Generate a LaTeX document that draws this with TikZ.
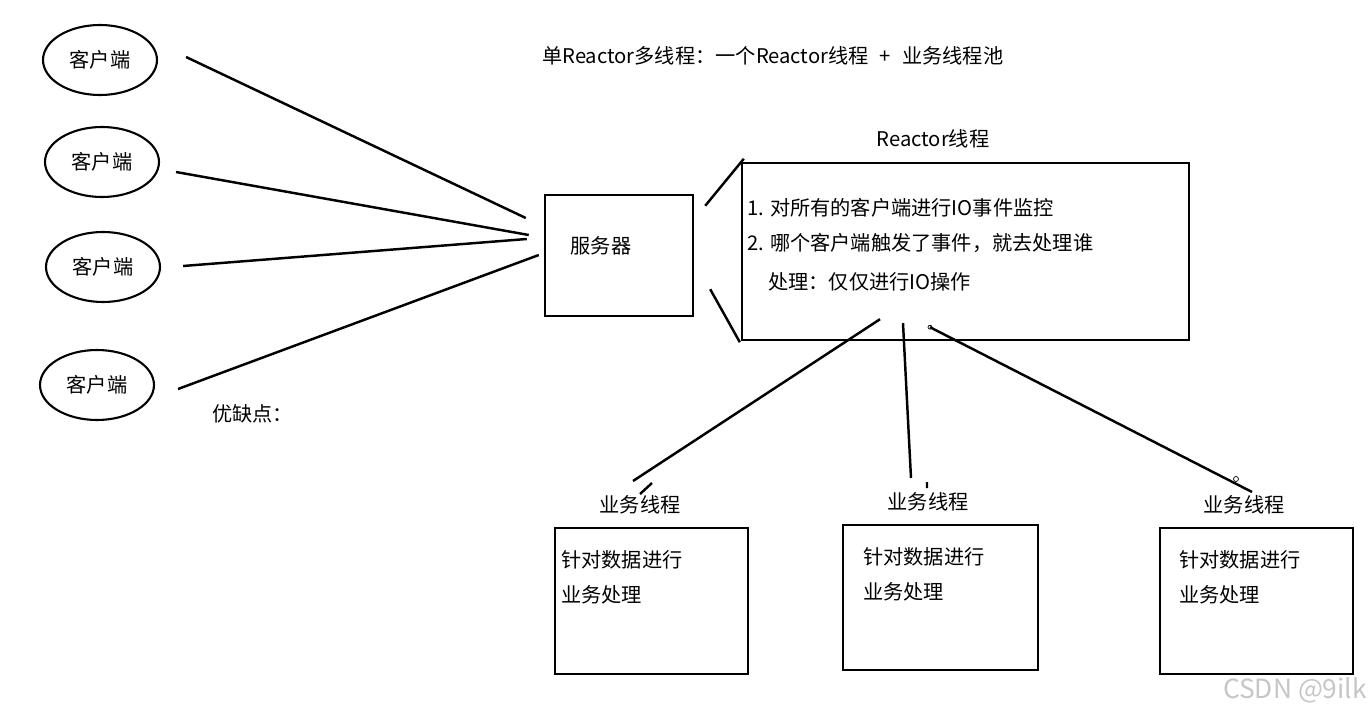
\documentclass[tikz,border=0pt]{standalone}
\usepackage{fontspec}
\setmainfont{Noto Sans CJK SC}
\usetikzlibrary{shapes.geometric, positioning, calc}

\begin{document}
\begin{tikzpicture}[x=0.02cm, y=-0.02cm, line width=1.4pt,
    font=\fontsize{11.5pt}{14pt}\selectfont,
    client/.style={ellipse, draw, line width=1.2pt, minimum width=2.28cm, minimum height=1.4cm},
    box/.style={rectangle, draw},
    txt/.style={anchor=west, inner sep=0pt}]
    \useasboundingbox (0,0) rectangle (1370,713);
    % clients and server
    \node[client] (c1) at (100,60) {客户端};
    \node[client] (c2) at (102,162) {客户端};
    \node[client] (c3) at (103,267) {客户端};
    \node[client] (c4) at (97,385) {客户端};
    \node[txt] (pros) at (211,414) {优缺点：};
    \node[box, minimum width=2.96cm, minimum height=2.42cm] (srv) at (619,255.5) {};
    \node (srvtext) at (601,246) {服务器};
    \node[txt] (title) at (541,56) {单Reactor多线程：一个Reactor线程\hspace{0.55em}+\hspace{0.55em}业务线程池};

    % reactor thread
    \node (rlabel) at (933,139) {Reactor线程};
    \node[box, minimum width=8.94cm, minimum height=3.54cm] (rb) at (965.5,251.5) {};
    \node[txt] (r1) at (746,208) {1. 对所有的客户端进行IO事件监控};
    \node[txt] (r2) at (746,243) {2. 哪个客户端触发了事件，就去处理谁};
    \node[txt] (r3) at (767,282) {处理：仅仅进行IO操作};

    % worker threads
    \node (l1) at (640,505) {业务线程};
    \node (l2) at (928,502) {业务线程};
    \node (l3) at (1244,505) {业务线程};
    \node[box, minimum width=3.86cm, minimum height=2.92cm] (w1) at (651.5,601) {};
    \node[box, minimum width=3.9cm, minimum height=2.9cm] (w2) at (940.5,597.5) {};
    \node[box, minimum width=3.86cm, minimum height=2.92cm] (w3) at (1256.5,601) {};
    \node[txt] (w1a) at (560,560) {针对数据进行};
    \node[txt] (w1b) at (560,595) {业务处理};
    \node[txt] (w2a) at (862,557) {针对数据进行};
    \node[txt] (w2b) at (862,592) {业务处理};
    \node[txt] (w3a) at (1178,560) {针对数据进行};
    \node[txt] (w3b) at (1178,595) {业务处理};

    \node[text=gray!45, font=\fontsize{15pt}{17pt}\selectfont] (mark) at (1295,690) {CSDN @9ilk};

    \draw ($(c1.east)+(28,-3)$) -- ($(srv.west)+(-18,-37.5)$)
          ($(c2.east)+(16,10)$) -- ($(srv.west)+(-15,-20.5)$)
          ($(c3.east)+(22,-1)$) -- ($(srv.west)+(-17,-16.5)$)
          ($(c4.east)+(23,4)$) -- ($(srv.west)+(-5,-0.5)$);
    \draw ($(srv.north east)+(11,12)$) -- ($(rb.north west)+(3,-3)$)
          ($(srv.south east)+(16,-28)$) -- ($(rb.south west)+(-1,1)$);
    \draw ($(rb.south)+(-85.5,-22)$) -- ($(l1)+(-7,-24)$)
          ($(l1)+(12,-22)$) -- ($(l1)+(0,-11)$)
          ($(rb.south)+(-62.5,-18)$) -- ($(l2)+(-17,-24)$)
          ($(l2)+(-1,-20)$) -- ($(l2)+(-1,-14)$)
          ($(rb.south)+(-35.5,-14)$) -- ($(l3)+(8,-13)$);
    \draw[line width=0.4pt] ($(rb.south)+(-35.5,-14)$) circle (2)
          ($(l3)+(-8,-26)$) circle (2.5);
\end{tikzpicture}
\end{document}
